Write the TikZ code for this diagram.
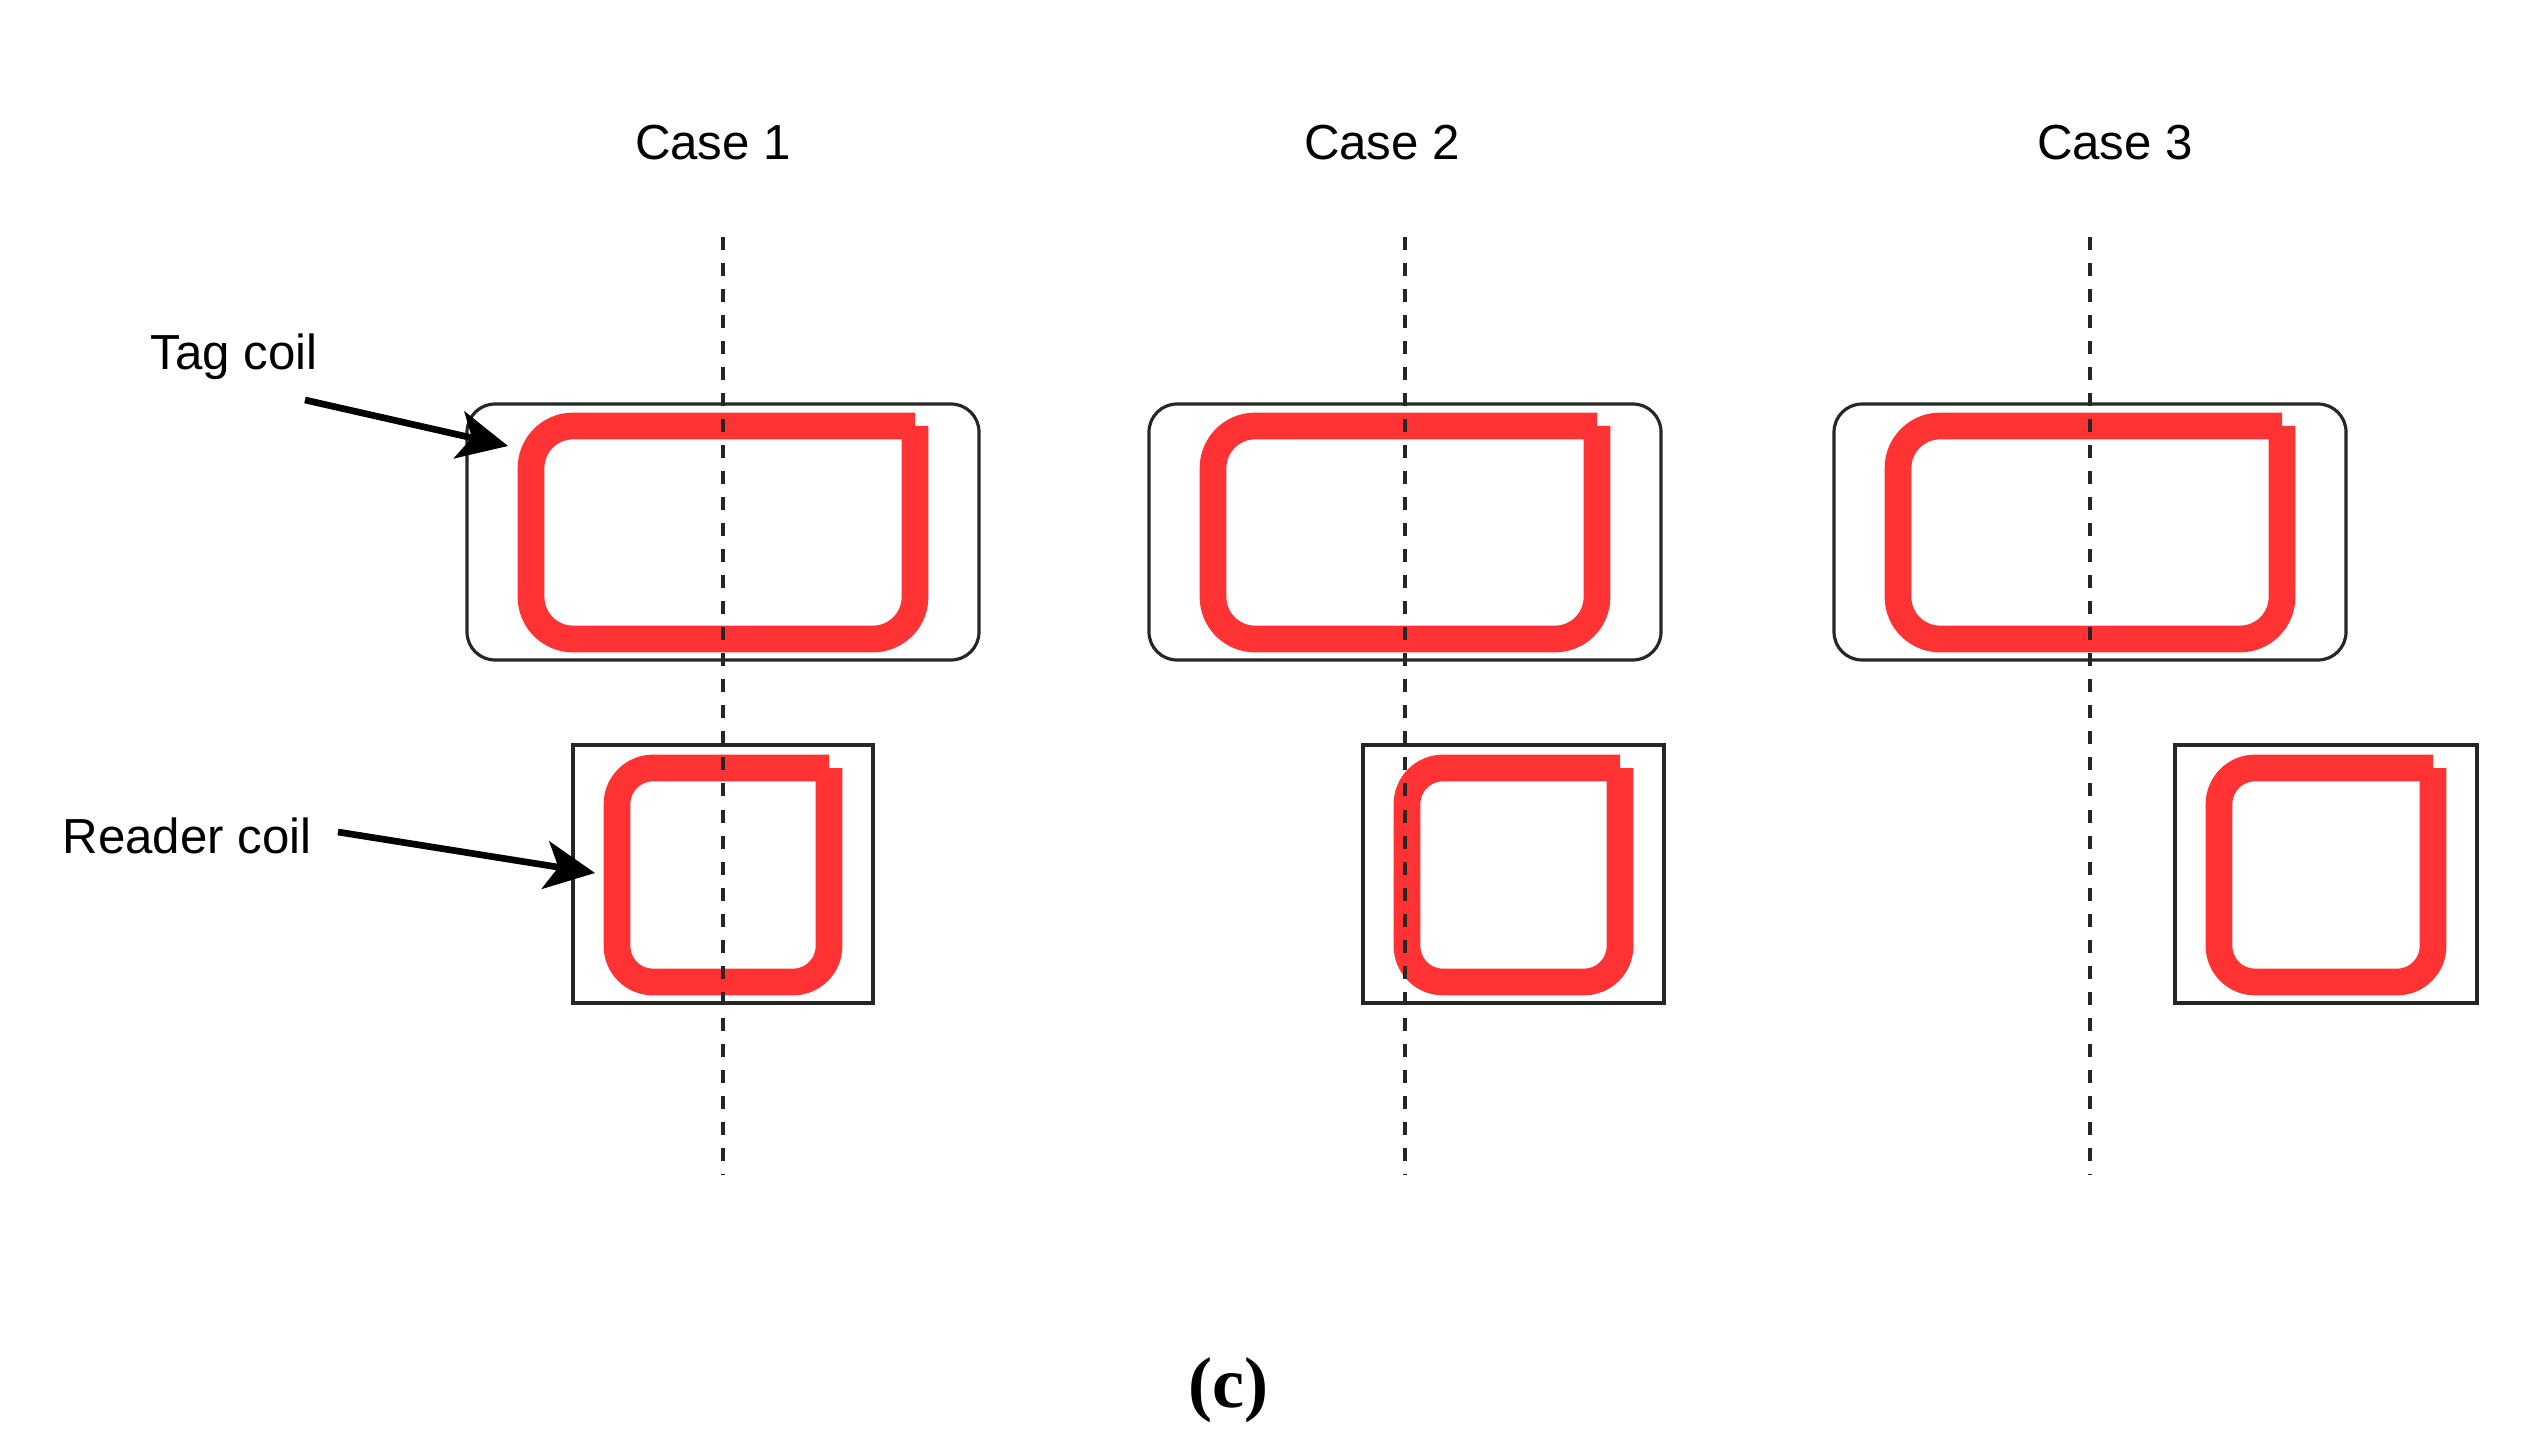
\documentclass[tikz,border=0pt]{standalone}
\usepackage{fontspec}
\setmainfont{Liberation Sans}
\newfontfamily\capfont{Liberation Serif}
\usetikzlibrary{arrows.meta}
\definecolor{coilred}{HTML}{FF3333}
\def\coilloop[#1](#2,#3)(#4,#5){\draw[#1] (#4,#3) -- (#4,#5) -- (#2,#5) -- (#2,#3) -- (#4,#3);}
\tikzset{
  tagbox/.style={draw=black!85, line width=0.9pt, rounded corners=2.8mm},
  readerbox/.style={draw=black!85, line width=1.1pt},
  coil/.style={draw=coilred, line width=7.6pt, rounded corners=#1},
  axis/.style={draw=black!85, line width=1.1pt, dash pattern=on 3.7pt off 3.7pt},
  pointer/.style={line width=1.9pt, -{Stealth[length=5mm,width=4.8mm,inset=1.3mm]}},
  lbl/.style={anchor=base, inner sep=0pt, font=\fontsize{14}{16}\selectfont},
}

\begin{document}
\begin{tikzpicture}[x=0.01cm, y=-0.01cm]
			%%%%% START %%%%%
			\useasboundingbox (0,0) rectangle (2536,1452);

			\node[lbl] (case1) at (713,160) {Case 1};
			\node[lbl] (case2) at (1382,160) {Case 2};
			\node[lbl] (case3) at (2115,160) {Case 3};

			\draw[tagbox] (467,404) rectangle (979,660);
			\coilloop[coil=4.2mm](531,426)(915,639);
			\draw[readerbox] (573,745) rectangle (873,1003);
			\coilloop[coil=3.6mm](617,768)(829,982);

			\draw[tagbox] (1149,404) rectangle (1661,660);
			\coilloop[coil=4.2mm](1213,426)(1597,639);
			\draw[readerbox] (1363,745) rectangle (1664,1003);
			\coilloop[coil=3.6mm](1407,768)(1620,982);

			\draw[tagbox] (1834,404) rectangle (2346,660);
			\coilloop[coil=4.2mm](1898,426)(2282,639);
			\draw[readerbox] (2175,745) rectangle (2477,1003);
			\coilloop[coil=3.6mm](2219,768)(2433,982);

			\draw[axis] (723,237) -- (723,1175);
			\draw[axis] (1405,237) -- (1405,1175);
			\draw[axis] (2090,237) -- (2090,1175);

			\node[lbl] (taglbl) at (234,370) {Tag coil};
			\coordinate (tagtail) at (305,400);
			\coordinate (tagtip) at (508,446);
			\draw[pointer] (tagtail) -- (tagtip);

			\node[lbl] (readerlbl) at (187,853) {Reader coil};
			\coordinate (readertail) at (338,832);
			\coordinate (readertip) at (595,873);
			\draw[pointer] (readertail) -- (readertip);

			\node[anchor=base, inner sep=0pt, font=\capfont\bfseries\fontsize{20.5}{24}\selectfont] (caption) at (1228,1407) {(c)};
			%%%%% END %%%%%
\end{tikzpicture}
\end{document}
